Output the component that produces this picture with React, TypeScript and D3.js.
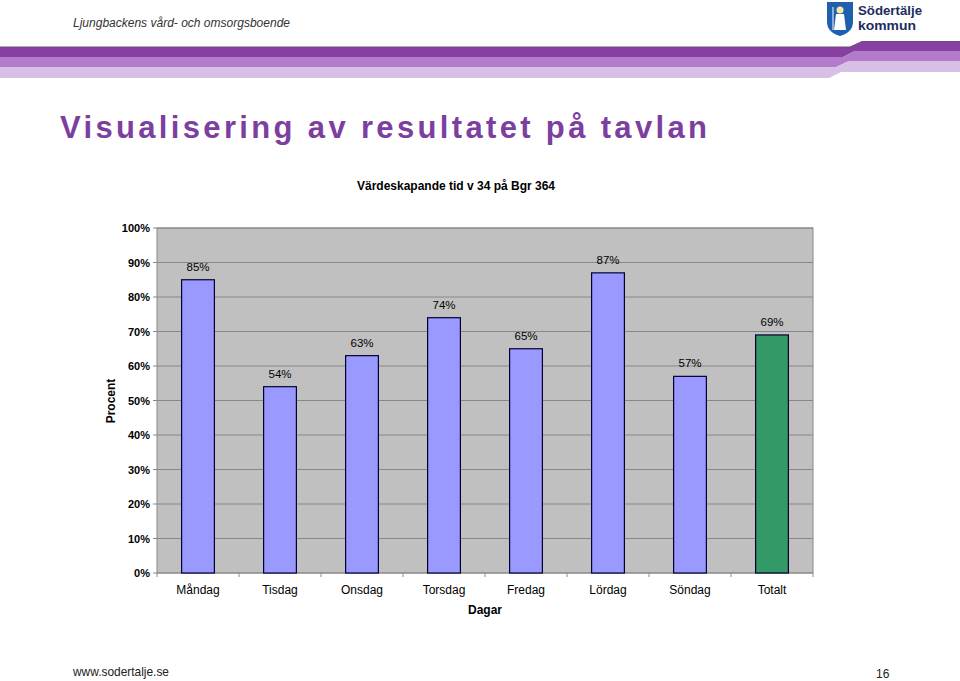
import React, { useEffect, useRef } from 'react';
import * as d3 from 'd3';

const days = ['Måndag', 'Tisdag', 'Onsdag', 'Torsdag', 'Fredag', 'Lördag', 'Söndag', 'Totalt'];
const values = [85, 54, 63, 74, 65, 87, 57, 69];
const yTicks = [0, 10, 20, 30, 40, 50, 60, 70, 80, 90, 100];

const width = 960;
const height = 681;
const plot = { left: 157, right: 813, top: 228, bottom: 573 };

function App() {
  const ref = useRef<SVGSVGElement | null>(null);

  useEffect(() => {
    document.body.style.margin = '0';
    drawChart();
  });

  function drawChart() {
    const svg = d3.select(ref.current);
    svg.selectAll('*').remove();

    svg.append('rect').attr('width', width).attr('height', height).attr('fill', '#ffffff');

    // header stripes with the step on the right
    const bands = [
      { l0: 47, l1: 57, r0: 41.5, r1: 51, x0: 850, x1: 843, color: '#8740a2' },
      { l0: 57, l1: 67, r0: 51, r1: 61.5, x0: 843, x1: 836, color: '#b27ccb' },
      { l0: 67, l1: 78, r0: 61.5, r1: 72, x0: 836, x1: 829, color: '#d8bfe6' },
    ];
    const slant = 12;
    bands.forEach((b) => {
      const pts: [number, number][] = [
        [0, b.l0], [b.x0, b.l0], [b.x0 + slant, b.r0], [width, b.r0],
        [width, b.r1], [b.x1 + slant, b.r1], [b.x1, b.l1], [0, b.l1],
      ];
      svg.append('path')
        .attr('d', (d3.line()(pts) as string) + 'Z')
        .attr('fill', b.color);
    });
    svg.append('path')
      .attr('d', d3.line()([[0, 47], [850, 47], [862, 41.5], [width, 41.5]]) as string)
      .attr('fill', 'none')
      .attr('stroke', '#6d4a7c')
      .attr('stroke-width', 1);

    svg.append('text')
      .attr('x', 73).attr('y', 27)
      .attr('textLength', 217)
      .attr('lengthAdjust', 'spacingAndGlyphs')
      .style('font-family', 'Liberation Sans, Arial, sans-serif')
      .style('font-style', 'italic')
      .style('font-size', '12.5px')
      .attr('fill', '#333333')
      .text('Ljungbackens vård- och omsorgsboende');

    // logo
    const logo = svg.append('g').attr('transform', 'translate(827, 2)');
    logo.append('path')
      .attr('d', 'M0,0 H26 V20 Q26,30 13,34 Q0,30 0,20 Z')
      .attr('fill', '#1f5fb0');
    logo.append('circle').attr('cx', 13).attr('cy', 8).attr('r', 3.5).attr('fill', '#f4e7a0');
    logo.append('path')
      .attr('d', 'M9,12 H17 L19,28 H7 Z')
      .attr('fill', '#ffffff');
    logo.append('line')
      .attr('x1', 6).attr('y1', 5).attr('x2', 6).attr('y2', 28)
      .attr('stroke', '#ffffff').attr('stroke-width', 1);
    svg.append('text')
      .attr('x', 858).attr('y', 15)
      .attr('textLength', 64)
      .attr('lengthAdjust', 'spacingAndGlyphs')
      .style('font-family', 'Liberation Sans, Arial, sans-serif')
      .style('font-weight', 'bold')
      .style('font-size', '13px')
      .attr('fill', '#1b2d5c')
      .text('Södertälje');
    svg.append('text')
      .attr('x', 858).attr('y', 30)
      .attr('textLength', 58)
      .attr('lengthAdjust', 'spacingAndGlyphs')
      .style('font-family', 'Liberation Sans, Arial, sans-serif')
      .style('font-weight', 'bold')
      .style('font-size', '13px')
      .attr('fill', '#1b2d5c')
      .text('kommun');

    // slide title
    svg.append('text')
      .attr('x', 60).attr('y', 138)
      .attr('textLength', 647)
      .attr('lengthAdjust', 'spacing')
      .style('font-family', 'Liberation Sans, Arial, sans-serif')
      .style('font-weight', 'bold')
      .style('font-size', '31px')
      .attr('fill', '#7d3f9f')
      .text('Visualisering av resultatet på tavlan');

    svg.append('text')
      .attr('x', 456).attr('y', 190)
      .attr('text-anchor', 'middle')
      .style('font-family', 'Liberation Sans, Arial, sans-serif')
      .style('font-weight', 'bold')
      .style('font-size', '12px')
      .text('Värdeskapande tid v 34 på Bgr 364');

    const x = d3.scaleBand<string>()
      .domain(days)
      .range([plot.left, plot.right])
      .paddingInner(0.6)
      .paddingOuter(0.3);

    const y = d3.scaleLinear()
      .domain([0, 100])
      .range([plot.bottom, plot.top]);

    svg.append('rect')
      .attr('x', plot.left).attr('y', plot.top)
      .attr('width', plot.right - plot.left)
      .attr('height', plot.bottom - plot.top)
      .attr('fill', '#c0c0c0')
      .attr('stroke', '#8a8a8a');

    svg.append('g')
      .selectAll('line')
      .data(yTicks)
      .enter()
      .append('line')
      .attr('x1', plot.left - 4)
      .attr('x2', plot.right)
      .attr('y1', (d) => y(d))
      .attr('y2', (d) => y(d))
      .attr('stroke', '#888888')
      .attr('stroke-width', 1);

    svg.append('g')
      .selectAll('text')
      .data(yTicks)
      .enter()
      .append('text')
      .attr('x', 150)
      .attr('y', (d) => y(d) + 4)
      .attr('text-anchor', 'end')
      .style('font-family', 'Liberation Sans, Arial, sans-serif')
      .style('font-weight', 'bold')
      .style('font-size', '11px')
      .text((d) => d + '%');

    // category tick marks
    const step = x.step();
    svg.append('g')
      .selectAll('line')
      .data(d3.range(days.length + 1))
      .enter()
      .append('line')
      .attr('x1', (i) => plot.left + i * step)
      .attr('x2', (i) => plot.left + i * step)
      .attr('y1', plot.bottom)
      .attr('y2', plot.bottom + 4)
      .attr('stroke', '#8c8c8c');

    const bars = svg.append('g')
      .selectAll('g')
      .data(days.map((d, i) => ({ day: d, value: values[i] })))
      .enter()
      .append('g');

    bars.append('rect')
      .attr('x', (d) => x(d.day) as number)
      .attr('y', (d) => y(d.value))
      .attr('width', x.bandwidth())
      .attr('height', (d) => plot.bottom - y(d.value))
      .attr('fill', (d) => (d.day === 'Totalt' ? '#339966' : '#9999ff'))
      .attr('stroke', '#000033')
      .attr('stroke-width', 1.2);

    bars.append('text')
      .attr('x', (d) => (x(d.day) as number) + x.bandwidth() / 2)
      .attr('y', (d) => y(d.value) - 9)
      .attr('text-anchor', 'middle')
      .style('font-family', 'Liberation Sans, Arial, sans-serif')
      .style('font-size', '11.5px')
      .text((d) => d.value + '%');

    bars.append('text')
      .attr('x', (d) => (x(d.day) as number) + x.bandwidth() / 2)
      .attr('y', 594)
      .attr('text-anchor', 'middle')
      .style('font-family', 'Liberation Sans, Arial, sans-serif')
      .style('font-size', '12px')
      .text((d) => d.day);

    svg.append('text')
      .attr('x', 485).attr('y', 614)
      .attr('text-anchor', 'middle')
      .style('font-family', 'Liberation Sans, Arial, sans-serif')
      .style('font-weight', 'bold')
      .style('font-size', '12px')
      .text('Dagar');

    svg.append('text')
      .attr('transform', 'translate(115, 401) rotate(-90)')
      .attr('text-anchor', 'middle')
      .style('font-family', 'Liberation Sans, Arial, sans-serif')
      .style('font-weight', 'bold')
      .style('font-size', '12px')
      .text('Procent');

    // footer
    svg.append('text')
      .attr('x', 73).attr('y', 676)
      .attr('textLength', 96)
      .attr('lengthAdjust', 'spacingAndGlyphs')
      .style('font-family', 'Liberation Sans, Arial, sans-serif')
      .style('font-size', '13px')
      .attr('fill', '#222222')
      .text('www.sodertalje.se');
    svg.append('text')
      .attr('x', 876).attr('y', 678)
      .style('font-family', 'Liberation Sans, Arial, sans-serif')
      .style('font-size', '12px')
      .attr('fill', '#222222')
      .text('16');
  }

  return <svg ref={ref} width={width} height={height} style={{ display: 'block' }} />;
}

export default App;
